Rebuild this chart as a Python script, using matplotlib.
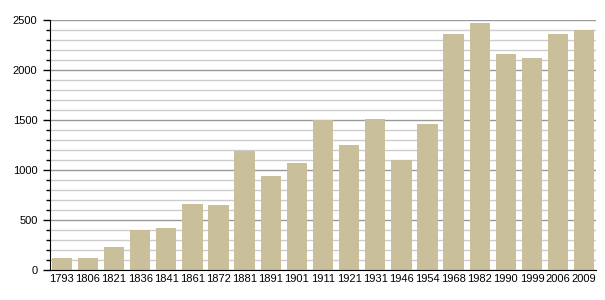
import matplotlib
matplotlib.use("Agg")
import matplotlib.pyplot as plt
from matplotlib.ticker import MultipleLocator

years = ["1793", "1806", "1821", "1836", "1841", "1861", "1872", "1881", "1891", "1901",
         "1911", "1921", "1931", "1946", "1954", "1968", "1982", "1990", "1999", "2006", "2009"]
population = [123, 121, 230, 400, 420, 660, 650, 1190, 943, 1073,
              1500, 1250, 1510, 1100, 1460, 2360, 2470, 2160, 2120, 2360, 2400]

plt.rcParams['font.family'] = ['Liberation Sans', 'DejaVu Sans']

fig = plt.figure(figsize=(6.05, 3.0), dpi=100)
ax = fig.add_axes([50/605, 30/300, 546/605, 250/300])

x = list(range(len(years)))
ax.bar(x, population, width=0.78, color="#c9c09b", zorder=3)

ax.set_ylim(0, 2500)
ax.set_xlim(-0.45, len(years) - 0.55)
ax.yaxis.set_major_locator(MultipleLocator(500))
ax.yaxis.set_minor_locator(MultipleLocator(100))
ax.grid(axis='y', which='major', color='#999999', linewidth=1.0, zorder=1)
ax.grid(axis='y', which='minor', color='#cccccc', linewidth=1.0, zorder=1)
ax.set_xticks(x)
ax.set_xticklabels(years)
ax.tick_params(axis='x', length=0, labelsize=8, pad=3)
ax.tick_params(axis='y', which='major', length=5, width=1, labelsize=8, pad=4)
ax.tick_params(axis='y', which='minor', length=3, width=1)
for s in ['top', 'right']:
    ax.spines[s].set_visible(False)
ax.spines['left'].set_color('black')
ax.spines['bottom'].set_color('black')
ax.spines['left'].set_zorder(4)
ax.spines['bottom'].set_zorder(4)

fig.savefig("out.png", dpi=100)
